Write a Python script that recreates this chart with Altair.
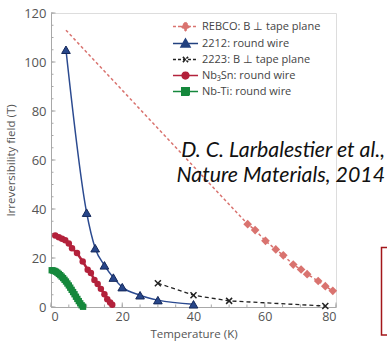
import altair as alt
import pandas as pd

# ---------------- data ----------------
rebco_T = [4.2, 55.2, 57.3, 60.2, 63.1, 65.2, 68.0, 70.2, 71.9, 75.0, 77.0, 79.1]
rebco_B = [113.0, 33.8, 31.4, 27.0, 23.5, 21.1, 17.3, 15.3, 13.4, 10.6, 8.5, 6.6]
rebco_measured = [False] + [True] * 11

bi2212_T = [4.2, 10.0, 12.4, 15.0, 17.5, 20.0, 25.0, 30.0, 40.0]
bi2212_B = [105.0, 38.5, 24.0, 17.0, 12.0, 8.1, 4.8, 2.8, 1.1]

bi2223_T = [30.0, 40.0, 50.0, 77.0]
bi2223_B = [9.7, 4.8, 2.5, 0.4]

nb3sn_T = [1.2, 2.2, 3.1, 4.0, 5.0, 5.9, 7.3, 8.9, 10.3, 11.2, 12.2, 13.1, 14.0, 15.0, 15.8, 16.6, 17.2]
nb3sn_B = [29.2, 28.5, 27.9, 27.2, 25.9, 24.0, 22.0, 18.6, 15.2, 13.9, 11.0, 9.4, 7.4, 5.2, 3.2, 1.8, 0.9]

nbti_T = [0.2, 0.6, 1.0, 1.4, 1.8, 2.2, 2.6, 3.0, 3.4, 3.8, 4.2, 4.6, 5.0, 5.4, 5.8, 6.2,
          6.6, 7.0, 7.4, 7.8, 8.2, 8.6, 9.0]
nbti_B = [15.0, 14.9, 14.7, 14.4, 14.0, 13.5, 13.0, 12.4, 11.8, 11.1, 10.4, 9.6, 8.8, 7.9,
          7.0, 6.1, 5.2, 4.2, 3.3, 2.4, 1.5, 0.7, 0.1]

series = ["REBCO: B \u22a5 tape plane", "2212: round wire", "2223: B \u22a5 tape plane",
          "Nb\u2083Sn: round wire", "Nb-Ti: round wire"]
colors = ["#d9736f", "#22417f", "#222222", "#b3213b", "#15883c"]

x_major = [0, 20, 40, 60, 80]
y_major = [0, 20, 40, 60, 80, 100, 120]
x_minor = list(range(0, 81, 5))
y_minor = list(range(0, 121, 5))

note_text = "D. C. Larbalestier et al.,\nNature Materials, 2014"

# ---------------- styling ----------------
W, H = 285, 294
FONT = "Open Sans"
GREY = "#555555"

xscale = alt.Scale(domain=[0, 80], nice=False, zero=False)
yscale = alt.Scale(domain=[0, 120], nice=False, zero=False)
xaxis = alt.Axis(values=x_major, ticks=False, grid=False, domainColor="#a8a8a8",
                 labelFont=FONT, labelFontSize=12.5, labelColor=GREY, labelPadding=3,
                 title="Temperature (K)", titleFont=FONT, titleFontSize=11.5,
                 titleFontWeight="normal", titleColor=GREY, titlePadding=6)
yaxis = alt.Axis(values=y_major, ticks=False, grid=False, domainColor="#a8a8a8",
                 labelFont=FONT, labelFontSize=13, labelColor=GREY, labelPadding=5,
                 title="Irreversibility field (T)", titleFont=FONT, titleFontSize=11.5,
                 titleFontWeight="normal", titleColor=GREY, titlePadding=7)

X = alt.X("T:Q", scale=xscale, axis=xaxis)
Y = alt.Y("B:Q", scale=yscale, axis=yaxis)

df_rebco = pd.DataFrame({"T": rebco_T, "B": rebco_B, "m": rebco_measured})
df_2212 = pd.DataFrame({"T": bi2212_T, "B": bi2212_B})
df_2223 = pd.DataFrame({"T": bi2223_T, "B": bi2223_B})
df_nb3sn = pd.DataFrame({"T": nb3sn_T, "B": nb3sn_B})
df_nbti = pd.DataFrame({"T": nbti_T, "B": nbti_B})

layers = []

# inside tick marks
df_xmin = pd.DataFrame({"T": x_minor})
df_xmaj = pd.DataFrame({"T": x_major})
df_ymin = pd.DataFrame({"B": y_minor})
df_ymaj = pd.DataFrame({"B": y_major})
tick_col = "#a8a8a8"
layers.append(alt.Chart(df_xmin).mark_rule(color=tick_col, strokeWidth=1).encode(
    x=X, y=alt.value(H), y2=alt.value(H - 2.5)))
layers.append(alt.Chart(df_xmaj).mark_rule(color=tick_col, strokeWidth=1).encode(
    x=X, y=alt.value(H), y2=alt.value(H - 4.5)))
layers.append(alt.Chart(df_ymin).mark_rule(color=tick_col, strokeWidth=1).encode(
    y=Y, x=alt.value(0), x2=alt.value(2.5)))
layers.append(alt.Chart(df_ymaj).mark_rule(color=tick_col, strokeWidth=1).encode(
    y=Y, x=alt.value(0), x2=alt.value(4.5)))

# REBCO
layers.append(alt.Chart(df_rebco).mark_line(color=colors[0], strokeWidth=1.5,
                                             strokeDash=[3, 2.5]).encode(x=X, y=Y))
layers.append(alt.Chart(df_rebco).transform_filter("datum.m").mark_point(
    shape="diamond", filled=True, size=75, color=colors[0], opacity=1).encode(x=X, y=Y))

# 2223
layers.append(alt.Chart(df_2223).mark_line(color=colors[2], strokeWidth=1.3,
                                            strokeDash=[4, 3]).encode(x=X, y=Y))
layers.append(alt.Chart(df_2223).mark_point(
    filled=False, size=100, color=colors[2], strokeWidth=1.5, opacity=1).encode(
    x=X, y=Y, shape=alt.value("M-0.6,-0.6L0.6,0.6M-0.6,0.6L0.6,-0.6")))

# 2212
layers.append(alt.Chart(df_2212).mark_line(color="#2b4a90", strokeWidth=1.5,
                                            interpolate="monotone").encode(x=X, y=Y))
layers.append(alt.Chart(df_2212).mark_point(
    shape="triangle-up", filled=True, size=75, fill="#27468a", stroke="#14285a",
    strokeWidth=1, opacity=1).encode(x=X, y=Y))

# Nb3Sn
layers.append(alt.Chart(df_nb3sn).mark_line(color=colors[3], strokeWidth=2.5).encode(x=X, y=Y))
layers.append(alt.Chart(df_nb3sn).mark_point(
    shape="circle", filled=True, size=42, color=colors[3], opacity=1).encode(x=X, y=Y))

# Nb-Ti
layers.append(alt.Chart(df_nbti).mark_line(color=colors[4], strokeWidth=5).encode(x=X, y=Y))
layers.append(alt.Chart(df_nbti).mark_point(
    shape="square", filled=True, size=40, color=colors[4], opacity=1).encode(x=X, y=Y))

# legend (hidden marks, legend only)
line = "M-1.67,0H1.67 "
paths = [
    line + "M0,-0.55L0.55,0L0,0.55L-0.55,0Z",
    line + "M0,-0.6L0.6,0.45L-0.6,0.45Z",
    line + "M-0.35,-0.35L0.35,0.35M-0.35,0.35L0.35,-0.35",
    line + "M0.45,0A0.45,0.45,0,1,1,-0.45,0A0.45,0.45,0,1,1,0.45,0Z",
    line + "M-0.5,-0.5H0.5V0.5H-0.5Z",
]
dashes = [[3, 2], [1, 0], [3, 2], [1, 0], [1, 0]]
df_leg = pd.DataFrame({"s": series})
leg = alt.Legend(title=None, orient="none", legendX=126, legendY=5, padding=0,
                 symbolSize=225, symbolStrokeWidth=1.5, symbolOpacity=1, labelFont=FONT,
                 labelFontSize=11, labelColor="#444444", labelOffset=8, rowPadding=1)
layers.append(alt.Chart(df_leg).mark_point(filled=True, clip=True, size=225, strokeWidth=1.5,
                                           opacity=1).encode(
    x=alt.value(-200), y=alt.value(-200),
    fill=alt.Fill("s:N", scale=alt.Scale(domain=series, range=colors), legend=leg),
    stroke=alt.Stroke("s:N", scale=alt.Scale(domain=series, range=colors), legend=leg),
    shape=alt.Shape("s:N", scale=alt.Scale(domain=series, range=paths), legend=leg),
    strokeDash=alt.StrokeDash("s:N", scale=alt.Scale(domain=series, range=dashes), legend=leg),
))

# citation text
df_note = pd.DataFrame({"t": [note_text]})
layers.append(alt.Chart(df_note).mark_text(
    align="right", baseline="alphabetic", font="Lato", fontStyle="italic", fontSize=21.3,
    color="#111111", lineBreak="\n", lineHeight=24.5).encode(
    text="t:N", x=alt.value(334), y=alt.value(144)))

# red frame at the bottom right (slide decoration)
df_box = pd.DataFrame({"k": [1]})
layers.append(alt.Chart(df_box).mark_rect(fill=None, stroke="#a3161a", strokeWidth=1.5).encode(
    x=alt.value(330.5), x2=alt.value(345), y=alt.value(234.5), y2=alt.value(322)))

chart = alt.layer(*layers).resolve_scale(
    fill="independent", stroke="independent", shape="independent", strokeDash="independent"
).properties(
    width=W, height=H,
    autosize=alt.AutoSizeParams(type="none"),
    padding={"left": 51, "top": 13, "right": 51, "bottom": 34},
).configure_view(stroke="#b0b0b0", strokeWidth=1).configure(background="white")

chart.save("out.html", embed_options={"renderer": "svg", "actions": False})
